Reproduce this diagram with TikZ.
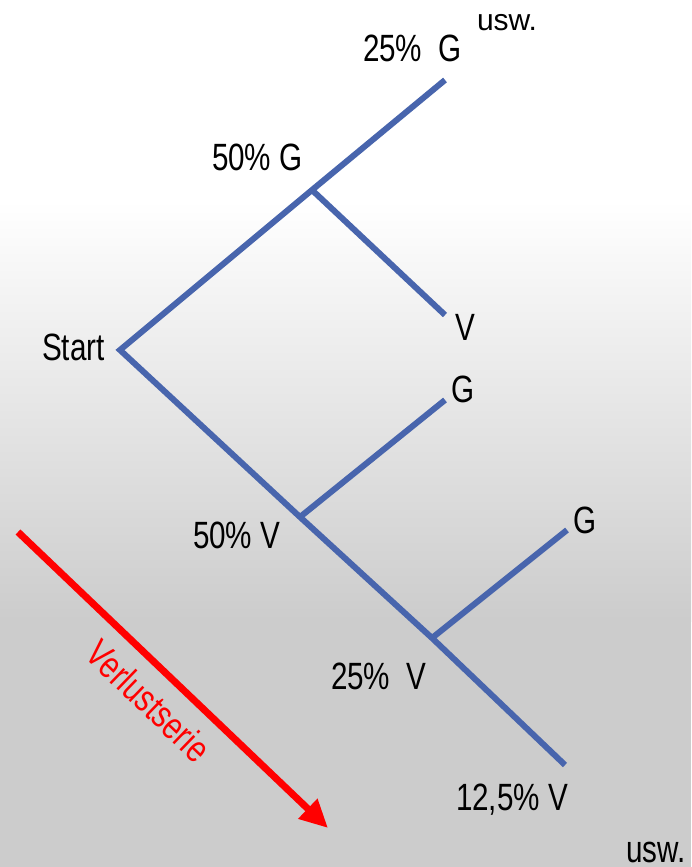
\documentclass[tikz,border=0pt]{standalone}
\usepackage{fontspec}
\setmainfont{Liberation Sans}
\newfontfamily\condfont{Liberation Sans}[FakeStretch=0.78]
\newfontfamily\regfont{Liberation Sans}
\usetikzlibrary{arrows.meta}
\definecolor{treeblue}{RGB}{72,101,173}
\definecolor{bggray}{RGB}{204,204,204}
\tikzset{
  branch/.style={draw=treeblue, line width=6pt, line cap=butt, line join=miter},
  lbl/.style={anchor=base west, inner sep=0pt, outer sep=0pt, font=\condfont\fontsize{38}{40}\selectfont, text=black},
  smalllbl/.style={anchor=base west, inner sep=0pt, outer sep=0pt, font=\regfont\fontsize{30}{32}\selectfont, text=black},
  redarrow/.style={draw=red, line width=7pt, -{Triangle[length=28pt,width=26pt]}},
  redlbl/.style={inner sep=0pt, font=\condfont\fontsize{38}{40}\selectfont, text=red, rotate=-44}
}
\begin{document}
\begin{tikzpicture}[x=1pt,y=-1pt]
\useasboundingbox (0,0) rectangle (691,867);
% background
\fill[white] (0,0) rectangle (691,201);
\shade[top color=white, bottom color=bggray] (0,200) rectangle (691,621);
\fill[bggray] (0,620) rectangle (691,867);
% tree coordinates
\coordinate (S) at (120,350);
\coordinate (A) at (312,190);
\coordinate (AG) at (445,80);
\coordinate (AV) at (445,315);
\coordinate (B) at (300,517);
\coordinate (BG) at (445,400);
\coordinate (C) at (432,638);
\coordinate (CG) at (567,530);
\coordinate (CV) at (565,765);
% branches
\draw[branch] (AG) -- (A) -- (S) -- (B) -- (C) -- (CV);
\draw[branch] (A) -- (AV);
\draw[branch] (B) -- (BG);
\draw[branch] (C) -- (CG);
% labels
\node[lbl] (l25g) at (363,62) {25\%\ \ G};
\node[smalllbl] (usw1) at (477,31) {usw.};
\node[lbl] (l50g) at (212,170) {50\% G};
\node[lbl] (lstart) at (42,360) {Start};
\node[lbl] (lv1) at (455,340) {V};
\node[lbl] (lg1) at (451,402) {G};
\node[lbl] (l50v) at (193,548) {50\% V};
\node[lbl] (lg2) at (573,533) {G};
\node[lbl] (l25v) at (331,689) {25\%\ \ V};
\node[lbl] (l125v) at (456,810) {12,5\% V};
\node[lbl] (usw2) at (626,862) {usw.};
% red arrow
\coordinate (R1) at (18,532);
\coordinate (R2) at (328,828);
\draw[redarrow] (R1) -- (R2);
\node[redlbl] (verl) at (149,701) {Verlustserie};
\end{tikzpicture}
\end{document}
